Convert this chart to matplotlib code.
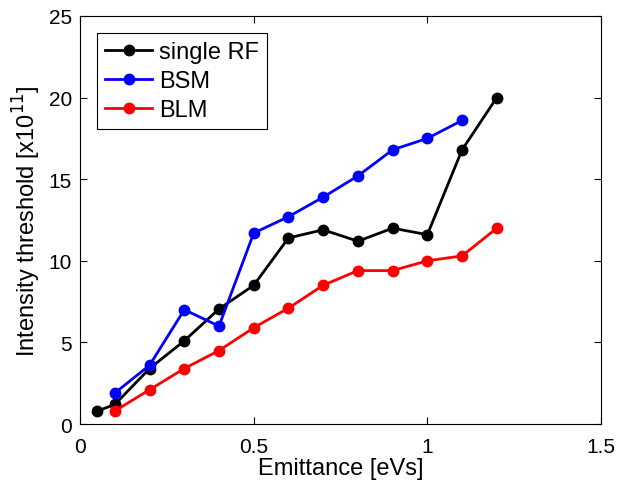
import matplotlib
matplotlib.use('Agg')
import matplotlib.pyplot as plt

plt.rcParams['font.family'] = ['Liberation Sans', 'DejaVu Sans']

# emittance [eVs]
x_rf = [0.05, 0.1, 0.2, 0.3, 0.4, 0.5, 0.6, 0.7, 0.8, 0.9, 1.0, 1.1, 1.2]
y_rf = [0.8, 1.2, 3.4, 5.1, 7.05, 8.5, 11.4, 11.9, 11.2, 12.0, 11.6, 16.8, 20.0]

x_bsm = [0.1, 0.2, 0.3, 0.4, 0.5, 0.6, 0.7, 0.8, 0.9, 1.0, 1.1]
y_bsm = [1.9, 3.6, 7.0, 6.0, 11.7, 12.7, 13.9, 15.2, 16.8, 17.5, 18.6]

x_blm = [0.1, 0.2, 0.3, 0.4, 0.5, 0.6, 0.7, 0.8, 0.9, 1.0, 1.1, 1.2]
y_blm = [0.8, 2.1, 3.4, 4.5, 5.9, 7.1, 8.5, 9.4, 9.4, 10.0, 10.3, 12.0]

fig = plt.figure(figsize=(6.26, 4.81), dpi=100)
ax = fig.add_axes([0.128, 0.1164, 0.832, 0.8483])

ax.plot(x_rf, y_rf, 'k-o', lw=2, ms=7.5, label='single RF')
ax.plot(x_bsm, y_bsm, '-o', color='#0000ff', lw=2, ms=7.5, label='BSM')
ax.plot(x_blm, y_blm, '-o', color='#ff0000', lw=2, ms=7.5, label='BLM')

ax.set_xlim(0, 1.5)
ax.set_ylim(0, 25)
ax.set_xticks([0, 0.5, 1, 1.5])
ax.set_xticklabels(['0', '0.5', '1', '1.5'])
ax.set_yticks([0, 5, 10, 15, 20, 25])
ax.tick_params(direction='in', top=True, right=True, labelsize=15, length=5)
ax.tick_params(axis='x', pad=9)
ax.tick_params(axis='y', pad=6)
ax.set_xlabel('Emittance [eVs]', fontsize=17, labelpad=1)
ax.set_ylabel('Intensity threshold [x10$^{11}$]', fontsize=17, labelpad=4)

leg = ax.legend(loc='upper left', fontsize=17, fancybox=False, edgecolor='black',
                handlelength=2.0, handletextpad=0.3, labelspacing=0.3,
                borderpad=0.35, borderaxespad=0.7, framealpha=1)
leg.get_frame().set_linewidth(0.8)

fig.savefig('out.png', dpi=100)
